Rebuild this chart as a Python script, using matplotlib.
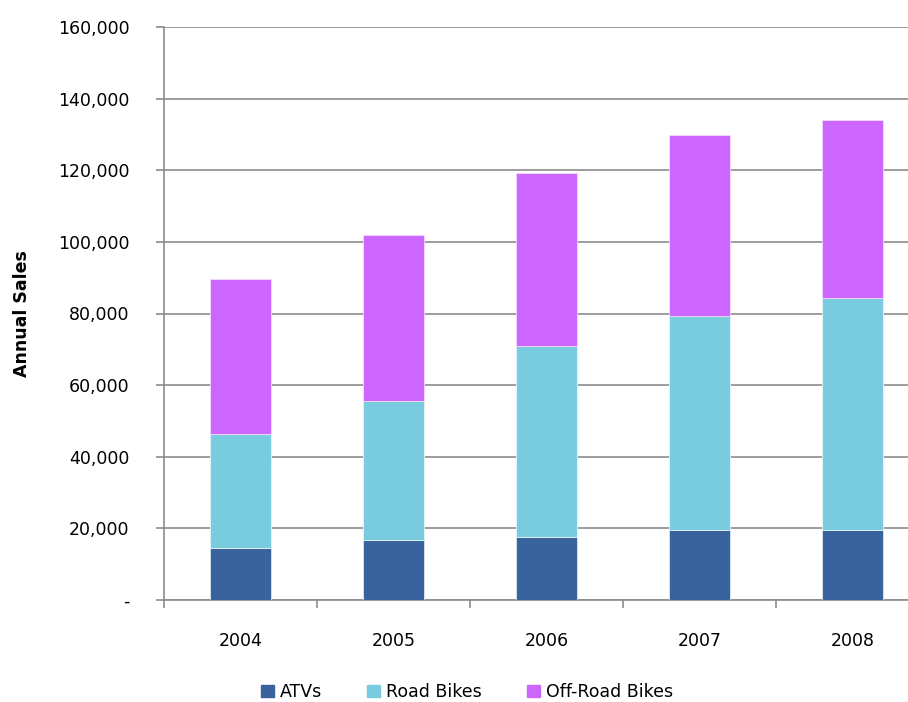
import numpy as np
import matplotlib.pyplot as plt
from matplotlib.ticker import FuncFormatter
from matplotlib.patches import Patch

years = ['2004', '2005', '2006', '2007', '2008']
atvs = [14400, 16700, 17700, 19600, 19600]
road_bikes = [32000, 39000, 53200, 59700, 64800]
off_road = [43200, 46300, 48300, 50500, 49600]

c_atv = '#39639c'
c_road = '#79cbe0'
c_off = '#cc66ff'

fig = plt.figure(figsize=(9.08, 7.02), dpi=100)
# axes run past the right edge of the figure on purpose
ax = fig.add_axes([164 / 908, 1 - 600 / 702, 765 / 908, 573 / 702])

x = np.arange(len(years))
w = 0.4
atvs = np.array(atvs)
road_bikes = np.array(road_bikes)
off_road = np.array(off_road)

ax.bar(x, atvs, w, color=c_atv, edgecolor='#dde6f0', linewidth=0.6, zorder=3)
ax.bar(x, road_bikes, w, bottom=atvs, color=c_road, edgecolor='#e6f5f9', linewidth=0.6, zorder=3)
ax.bar(x, off_road, w, bottom=atvs + road_bikes, color=c_off, edgecolor='#f0dcff', linewidth=0.6, zorder=3)

ax.set_xlim(-0.5, 4.5)
ax.set_ylim(0, 160000)
ax.set_yticks(np.arange(0, 160001, 20000))
ax.yaxis.set_major_formatter(FuncFormatter(lambda v, p: '-' if v == 0 else f'{int(v):,}'))
ax.set_xticks(x)
ax.set_xticklabels(years)
ax.set_xticks(np.arange(-0.5, 5, 1), minor=True)

ax.grid(axis='y', color='#8c8c8c', linewidth=1.2, zorder=0)
for s in ['top', 'right']:
    ax.spines[s].set_visible(False)
for s in ['left', 'bottom']:
    ax.spines[s].set_color('#8c8c8c')
    ax.spines[s].set_linewidth(1.2)

ax.tick_params(axis='y', length=6, width=1.2, color='#8c8c8c', pad=19, labelsize=12.5)
ax.tick_params(axis='x', which='major', length=0, pad=23, labelsize=12.5)
ax.tick_params(axis='x', which='minor', length=6, width=1.2, color='#8c8c8c')

ax.set_ylabel('Annual Sales', fontsize=12.5, fontweight='bold', labelpad=19)

handles = [Patch(color=c_atv, label='ATVs'),
           Patch(color=c_road, label='Road Bikes'),
           Patch(color=c_off, label='Off-Road Bikes')]
fig.legend(handles=handles, loc='center', bbox_to_anchor=(467 / 908, 1 - 692 / 702),
           ncol=3, frameon=False, fontsize=12.5, handlelength=0.75, handleheight=0.75,
           handletextpad=0.35, columnspacing=2.6)

fig.savefig('out.png', dpi=100)
